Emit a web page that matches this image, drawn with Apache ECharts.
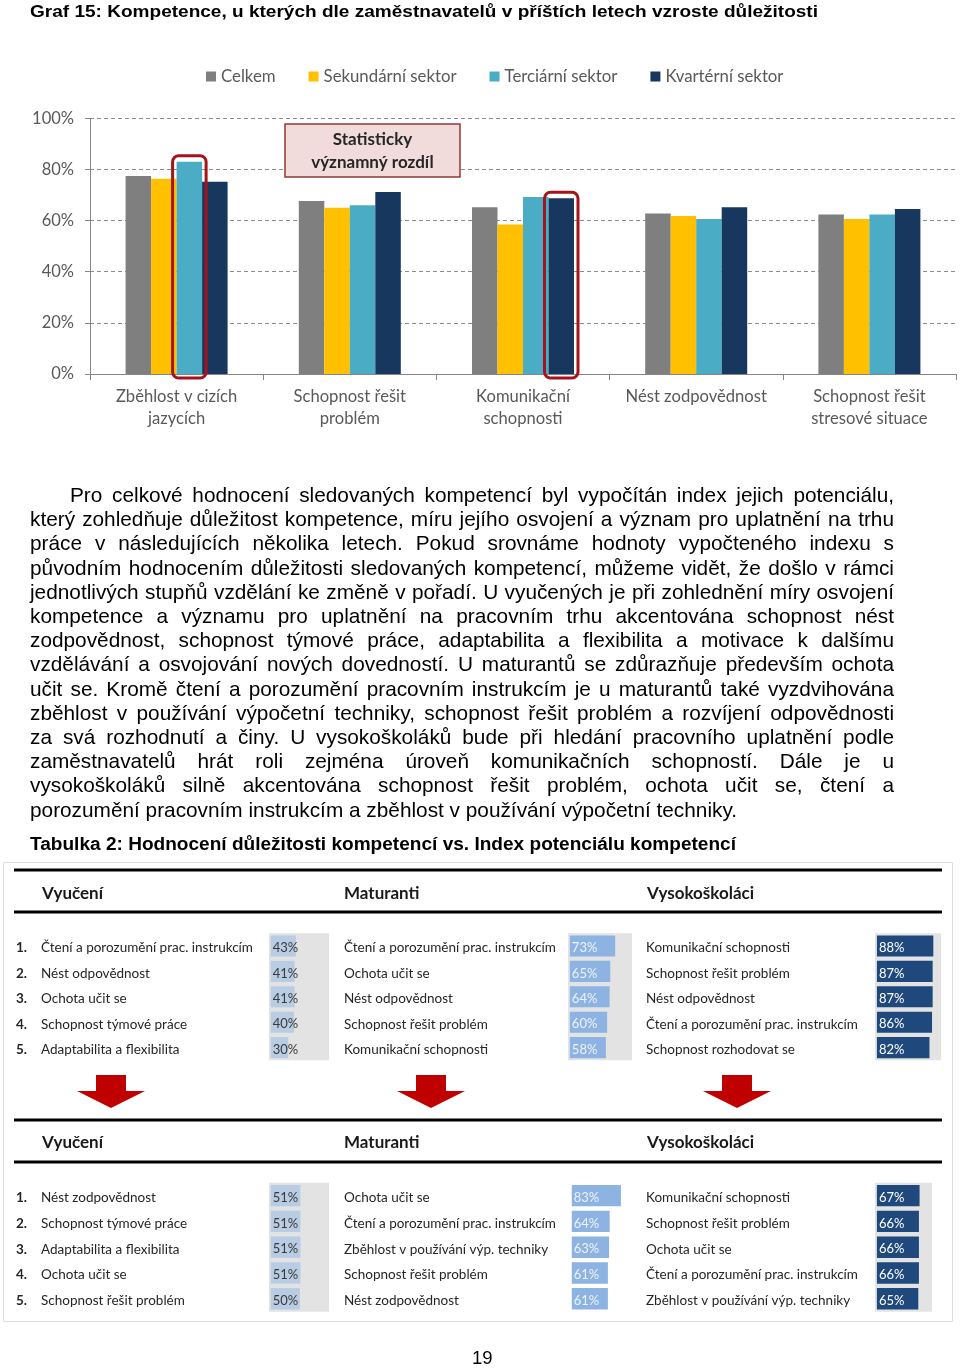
<!DOCTYPE html>
<html>
<head>
<meta charset="utf-8">
<script src="https://cdn.jsdelivr.net/npm/echarts@6/dist/echarts.min.js"></script>
<style>
  html, body { margin: 0; padding: 0; background: #fff; }
  #page { position: relative; width: 960px; height: 1370px; overflow: hidden; }
  #chart { position: absolute; left: 0; top: 0; width: 960px; height: 1370px; }
  .t { position: absolute; color: #000; font-family: "Liberation Sans", Arial, sans-serif; white-space: nowrap; }
  #title { left: 30px; top: 0px; font-size: 16.5px; font-weight: bold; line-height: 22px; transform-origin: 0 50%; }
  .pl { position: absolute; left: 30px; width: 864px; font-family: "Liberation Sans", Arial, sans-serif; font-size: 20.8px; line-height: 24px; color: #000; text-align: justify; text-align-last: justify; white-space: nowrap; }
  .pl.last { text-align-last: left; }
  #caption { left: 30px; top: 832px; font-size: 18px; font-weight: bold; line-height: 24px; font-family: "Liberation Sans Narrow", "Liberation Sans", Arial, sans-serif; transform-origin: 0 50%; }
  #pagenum { left: 472px; top: 1347px; font-size: 18.5px; line-height: 22px; }
</style>
</head>
<body>
<div id="page">
  <div id="chart"></div>
  <div class="t" id="title">Graf 15: Kompetence, u kterých dle zaměstnavatelů v příštích letech vzroste důležitosti</div>
  <div id="para"></div>
  <div class="t" id="caption">Tabulka 2: Hodnocení důležitosti kompetencí vs. Index potenciálu kompetencí</div>
  <div class="t" id="pagenum">19</div>
</div>
<script>
// ---------- DATA ----------
const categories = ['Zběhlost v cizích\njazycích', 'Schopnost řešit\nproblém', 'Komunikační\nschopnosti', 'Nést zodpovědnost', 'Schopnost řešit\nstresové situace'];
const seriesNames = ['Celkem', 'Sekundární sektor', 'Terciární sektor', 'Kvartérní sektor'];
const celkem     = [77.4, 67.7, 65.2, 62.8, 62.4];
const sekundarni = [76.4, 65.0, 58.5, 61.8, 60.6];
const terciarni  = [83.0, 66.0, 69.2, 60.6, 62.4];
const kvarterni  = [75.2, 71.2, 68.7, 65.2, 64.5];
const yTickStep = 20;
// highlighted bars (statistically significant difference): [seriesIndex, categoryIndex]
const significant = [[2, 0], [3, 2]];
const noteText = 'Statisticky\nvýznamný rozdíl';

const groupHeaders = ['Vyučení', 'Maturanti', 'Vysokoškoláci'];
const vyuceniTop = ['Čtení a porozumění prac. instrukcím', 'Nést odpovědnost', 'Ochota učit se', 'Schopnost týmové práce', 'Adaptabilita a flexibilita'];
const vyuceniTopVals = [43, 41, 41, 40, 30];
const maturantiTop = ['Čtení a porozumění prac. instrukcím', 'Ochota učit se', 'Nést odpovědnost', 'Schopnost řešit problém', 'Komunikační schopnosti'];
const maturantiTopVals = [73, 65, 64, 60, 58];
const vsTop = ['Komunikační schopnosti', 'Schopnost řešit problém', 'Nést odpovědnost', 'Čtení a porozumění prac. instrukcím', 'Schopnost rozhodovat se'];
const vsTopVals = [88, 87, 87, 86, 82];
const vyuceniBottom = ['Nést zodpovědnost', 'Schopnost týmové práce', 'Adaptabilita a flexibilita', 'Ochota učit se', 'Schopnost řešit problém'];
const vyuceniBottomVals = [51, 51, 51, 51, 50];
const maturantiBottom = ['Ochota učit se', 'Čtení a porozumění prac. instrukcím', 'Zběhlost v používání výp. techniky', 'Schopnost řešit problém', 'Nést zodpovědnost'];
const maturantiBottomVals = [83, 64, 63, 61, 61];
const vsBottom = ['Komunikační schopnosti', 'Schopnost řešit problém', 'Ochota učit se', 'Čtení a porozumění prac. instrukcím', 'Zběhlost v používání výp. techniky'];
const vsBottomVals = [67, 66, 66, 66, 65];

const paragraphLines = [
  'Pro celkové hodnocení sledovaných kompetencí byl vypočítán index jejich potenciálu,',
  'který zohledňuje důležitost kompetence, míru jejího osvojení a význam pro uplatnění na trhu',
  'práce v následujících několika letech. Pokud srovnáme hodnoty vypočteného indexu s',
  'původním hodnocením důležitosti sledovaných kompetencí, můžeme vidět, že došlo v rámci',
  'jednotlivých stupňů vzdělání ke změně v pořadí. U vyučených je při zohlednění míry osvojení',
  'kompetence a významu pro uplatnění na pracovním trhu akcentována schopnost nést',
  'zodpovědnost, schopnost týmové práce, adaptabilita a flexibilita a motivace k dalšímu',
  'vzdělávání a osvojování nových dovedností. U maturantů se zdůrazňuje především ochota',
  'učit se. Kromě čtení a porozumění pracovním instrukcím je u maturantů také vyzdvihována',
  'zběhlost v používání výpočetní techniky, schopnost řešit problém a rozvíjení odpovědnosti',
  'za svá rozhodnutí a činy. U vysokoškoláků bude při hledání pracovního uplatnění podle',
  'zaměstnavatelů hrát roli zejména úroveň komunikačních schopností. Dále je u',
  'vysokoškoláků silně akcentována schopnost řešit problém, ochota učit se, čtení a',
  'porozumění pracovním instrukcím a zběhlost v používání výpočetní techniky.'
];

// ---------- HTML TEXT ----------
const para = document.getElementById('para');
paragraphLines.forEach((line, i) => {
  const d = document.createElement('div');
  d.className = 'pl' + (i === paragraphLines.length - 1 ? ' last' : '');
  d.style.top = (483 + i * 24.2) + 'px';
  if (i === 0) { d.style.left = '70px'; d.style.width = '824px'; }
  d.textContent = line;
  para.appendChild(d);
});
function fitWidth(id, target) {
  const el = document.getElementById(id);
  const w = el.getBoundingClientRect().width;
  if (w > 0) el.style.transform = 'scaleX(' + (target / w) + ')';
}
fitWidth('title', 788);
fitWidth('caption', 706);

// ---------- CHART ----------
const FONT = 'Lato, "Open Sans", sans-serif';
const BAR_W = 25.5;
const colors = ['#7f7f7f', '#ffc000', '#4bacc6', '#17375e'];
const mainData = [celkem, sekundarni, terciarni, kvarterni];

const chart = echarts.init(document.getElementById('chart'), null, { renderer: 'canvas' });

// table layout (style constants)
const tableCols = [
  { left: 269, width: 60, margin: 253, bar: '#b8cce4', label: '#3a3a3a', bg: '#e3e3e3', numbered: true },
  { left: 568, width: 64, margin: 224, bar: '#8db3e2', label: '#eef3fa', bg: '#e3e3e3', numbered: false },
  { left: 875, width: 66, margin: 229, bar: '#1f497d', label: '#ffffff', bg: '#e3e3e3', numbered: false }
];
const tableColsBottom = [
  { left: 269, width: 60, margin: 253, bar: '#b8cce4', label: '#3a3a3a', bg: '#e3e3e3', numbered: true, max: 100 },
  { left: 570, width: 61, margin: 226, bar: '#8db3e2', label: '#eef3fa', bg: 'transparent', numbered: false, max: 100 },
  { left: 875, width: 57, margin: 229, bar: '#1f497d', label: '#ffffff', bg: '#e3e3e3', numbered: false, max: 86.5 }
];
const tableRows = [
  { top: 933.3, height: 127, cols: tableCols, labels: [vyuceniTop, maturantiTop, vsTop], vals: [vyuceniTopVals, maturantiTopVals, vsTopVals] },
  { top: 1182.7, height: 129, cols: tableColsBottom, labels: [vyuceniBottom, maturantiBottom, vsBottom], vals: [vyuceniBottomVals, maturantiBottomVals, vsBottomVals] }
];

const grids = [{ left: 90, top: 118.3, width: 866, height: 255.7, containLabel: false }];
const xAxes = [{
  type: 'category', gridIndex: 0, data: categories,
  axisLine: { lineStyle: { color: '#868686', width: 1 } },
  axisTick: { show: true, length: 6, lineStyle: { color: '#868686' } },
  axisLabel: { interval: 0, color: '#595959', fontSize: 16.6, lineHeight: 22, margin: 12, fontFamily: FONT }
}];
const yAxes = [{
  type: 'value', gridIndex: 0, min: 0, max: 100, interval: yTickStep,
  axisLine: { show: true, lineStyle: { color: '#868686' } },
  axisTick: { show: true, length: 5, lineStyle: { color: '#868686' } },
  axisLabel: { formatter: '{value}%', color: '#595959', fontSize: 16.5, margin: 16, fontFamily: FONT },
  splitLine: { show: true, lineStyle: { color: '#8c8c8c', type: [4, 3], width: 1 } }
}];
const series = mainData.map((d, i) => ({
  name: seriesNames[i], type: 'bar', xAxisIndex: 0, yAxisIndex: 0,
  data: d, barWidth: BAR_W, barGap: '0%',
  itemStyle: { color: colors[i] }, emphasis: { disabled: true }
}));

let gi = 1;
tableRows.forEach(row => {
  row.cols.forEach((c, ci) => {
    grids.push({ left: c.left, top: row.top, width: c.width, height: row.height, show: true, backgroundColor: c.bg, borderWidth: 0 });
    xAxes.push({ type: 'value', gridIndex: gi, min: -3, max: c.max || 100, show: false, splitLine: { show: false } });
    const labels = row.labels[ci];
    yAxes.push({
      type: 'category', gridIndex: gi, data: labels, inverse: true,
      axisLine: { show: false }, axisTick: { show: false }, splitLine: { show: false },
      axisLabel: {
        interval: 0, align: 'left', margin: c.margin, color: '#262626', fontSize: 13.5, fontFamily: FONT,
        padding: [4, 0, 0, 0],
        formatter: c.numbered ? ((v, idx) => '{n|' + (idx + 1) + '.}{t|' + v + '}') : '{value}',
        rich: { n: { fontWeight: 'bold', width: 25, fontSize: 13.5, color: '#262626', fontFamily: FONT }, t: { fontSize: 13.5, color: '#262626', fontFamily: FONT } }
      }
    });
    series.push({
      name: groupHeaders[ci], type: 'bar', xAxisIndex: gi, yAxisIndex: gi,
      data: row.vals[ci], barCategoryGap: '17%',
      itemStyle: { color: c.bar }, emphasis: { disabled: true }, silent: true,
      label: { show: true, position: 'insideLeft', distance: 2, offset: [0, 2], formatter: '{c}%', color: c.label, fontSize: 13, fontFamily: FONT }
    });
    gi++;
  });
});

// decorations
const graphics = [];
graphics.push({ type: 'rect', shape: { x: 3.5, y: 862.5, width: 949, height: 459 }, style: { fill: 'none', stroke: '#dcdcdc', lineWidth: 1 }, z: 1 });
[870, 912, 1120, 1162].forEach(y => graphics.push({ type: 'line', shape: { x1: 14, y1: y, x2: 942, y2: y }, style: { stroke: '#000', lineWidth: 3 }, z: 2 }));
const headerX = [42, 344, 647];
[894, 1143].forEach(y => headerX.forEach((x, i) => graphics.push({
  type: 'text', x: x, y: y, style: { text: groupHeaders[i], font: 'bold 17px ' + FONT, fill: '#1a1a1a', textVerticalAlign: 'middle', verticalAlign: 'middle' }, z: 3
})));
[111, 431, 737].forEach(cx => graphics.push({
  type: 'polygon', shape: { points: [[cx - 15, 1075], [cx + 15, 1075], [cx + 15, 1091], [cx + 34, 1091], [cx, 1108], [cx - 34, 1091], [cx - 15, 1091]] },
  style: { fill: '#c00000' }, z: 3
}));
graphics.push({ type: 'rect', shape: { x: 285, y: 124, width: 175, height: 53 }, style: { fill: '#f2dcdb', stroke: '#953735', lineWidth: 1.5 }, z: 5 });
graphics.push({ type: 'text', x: 372.5, y: 151, style: { text: noteText, font: 'bold 17px ' + FONT, fill: '#262626', align: 'center', verticalAlign: 'middle', lineHeight: 23 }, z: 6 });

chart.setOption({
  animation: false,
  backgroundColor: 'transparent',
  textStyle: { fontFamily: FONT },
  color: colors,
  legend: {
    data: seriesNames, left: 201, top: 63, icon: 'rect', itemWidth: 10, itemHeight: 10, itemGap: 33,
    textStyle: { color: '#595959', fontSize: 16.8, fontFamily: FONT }, selectedMode: false
  },
  grid: grids, xAxis: xAxes, yAxis: yAxes, series: series,
  graphic: graphics
});

// highlight frames around significant bars, positioned from the axes
const frames = significant.map(([si, di]) => {
  const cx = chart.convertToPixel({ xAxisIndex: 0 }, di) + (si - 1.5) * BAR_W;
  const top = chart.convertToPixel({ yAxisIndex: 0 }, mainData[si][di]);
  const base = chart.convertToPixel({ yAxisIndex: 0 }, 0);
  return {
    type: 'rect', shape: { x: cx - BAR_W / 2 - 4, y: top - 6, width: BAR_W + 8, height: base - top + 10, r: 6 },
    style: { fill: 'none', stroke: '#a3141c', lineWidth: 3 }, z: 10
  };
});
chart.setOption({ graphic: graphics.concat(frames) });
</script>
</body>
</html>
